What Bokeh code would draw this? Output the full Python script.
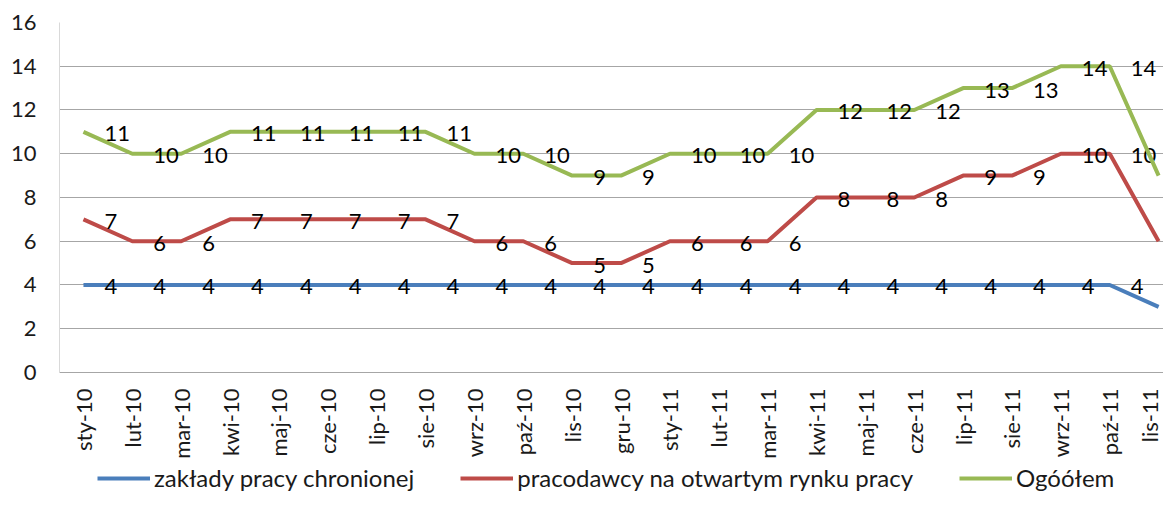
from bokeh.plotting import figure
from bokeh.models import (ColumnDataSource, Range1d, FixedTicker, Legend, LegendItem)
from bokeh.core.properties import value
from bokeh.embed import file_html
from bokeh.resources import INLINE

categories = ["sty-10", "lut-10", "mar-10", "kwi-10", "maj-10", "cze-10", "lip-10", "sie-10",
              "wrz-10", "paź-10", "lis-10", "gru-10", "sty-11", "lut-11", "mar-11", "kwi-11",
              "maj-11", "cze-11", "lip-11", "sie-11", "wrz-11", "paź-11", "lis-11"]
zaklady = [4, 4, 4, 4, 4, 4, 4, 4, 4, 4, 4, 4, 4, 4, 4, 4, 4, 4, 4, 4, 4, 4, 3]
pracodawcy = [7, 6, 6, 7, 7, 7, 7, 7, 6, 6, 5, 5, 6, 6, 6, 8, 8, 8, 9, 9, 10, 10, 6]
ogolem = [11, 10, 10, 11, 11, 11, 11, 11, 10, 10, 9, 9, 10, 10, 10, 12, 12, 12, 13, 13, 14, 14, 9]
series_names = ["zakłady pracy chronionej", "pracodawcy na otwartym rynku pracy", "Ogóółem"]
series_colors = ["#4a7ebb", "#be4b48", "#98b954"]
y_ticks = [0, 2, 4, 6, 8, 10, 12, 14, 16]

FONT = "Lato"
FS = "22px"
xs = list(range(len(categories)))

# frame spans the whole lower part; y=0 sits 120px above the bottom edge
p = figure(width=1163, height=492, output_backend="svg", toolbar_location=None,
           x_range=Range1d(-0.49, 22.1), y_range=Range1d(-5.486, 16),
           min_border_left=59, min_border_right=0, min_border_top=22, min_border_bottom=0)
p.outline_line_color = None
p.background_fill_color = "white"
p.border_fill_color = "white"

# axes
p.xaxis.fixed_location = 0
p.xaxis.ticker = FixedTicker(ticks=xs)
p.xaxis.major_label_overrides = {i: c for i, c in enumerate(categories)}
p.xaxis.major_label_orientation = 1.5707963
p.xaxis.major_tick_line_color = None
p.xaxis.minor_tick_line_color = None
p.xaxis.major_tick_out = 0
p.xaxis.major_label_standoff = 16
p.xaxis.axis_line_color = "#a6a6a6"
p.xaxis.major_label_text_font = FONT
p.xaxis.major_label_text_font_size = FS
p.xaxis.major_label_text_color = "#1a1a1a"

p.yaxis.ticker = FixedTicker(ticks=y_ticks)
p.yaxis.bounds = (0, 16)
p.yaxis.major_tick_line_color = None
p.yaxis.minor_tick_line_color = None
p.yaxis.major_tick_out = 0
p.yaxis.major_label_standoff = 23
p.yaxis.axis_line_color = "#d9d9d9"
p.yaxis.major_label_text_font = FONT
p.yaxis.major_label_text_font_size = FS
p.yaxis.major_label_text_color = "#1a1a1a"

p.xgrid.grid_line_color = None
p.ygrid.ticker = FixedTicker(ticks=y_ticks)
p.ygrid.grid_line_color = "#a6a6a6"
p.ygrid.grid_line_width = 1

items = []
for name, vals, col in zip(series_names, [zaklady, pracodawcy, ogolem], series_colors):
    src = ColumnDataSource(dict(x=xs, y=vals))
    r = p.line("x", "y", source=src, line_color=col, line_width=4)
    items.append(LegendItem(label=name, renderers=[r]))
    lab = ColumnDataSource(dict(x=xs[:-1], y=vals[:-1], t=[str(v) for v in vals[:-1]]))
    p.text("x", "y", text="t", source=lab, text_font=value(FONT), text_font_size=FS,
           text_color="black", text_align="left", text_baseline="middle",
           x_offset=21, y_offset=2)

legend = Legend(items=items, location=(38, 0), orientation="horizontal",
                border_line_color=None, background_fill_alpha=0, padding=0, margin=0,
                spacing=46, glyph_width=53, glyph_height=20, label_height=20,
                label_standoff=4, label_text_font=FONT, label_text_font_size="24px",
                label_text_color="#1a1a1a")
p.add_layout(legend)

open("out.html", "w").write(file_html(p, INLINE))
